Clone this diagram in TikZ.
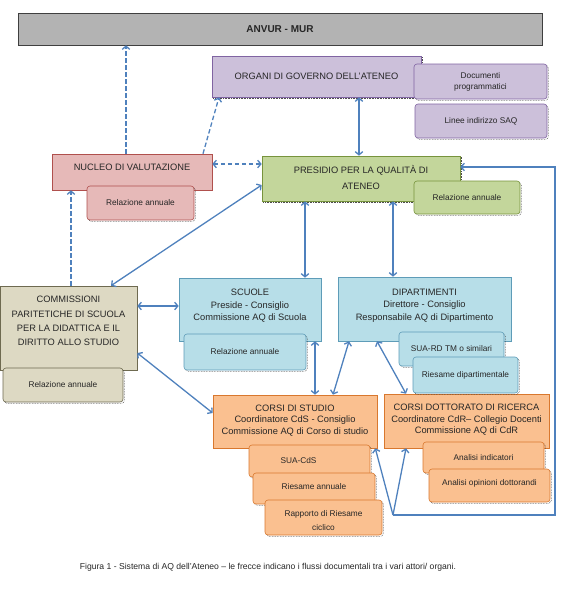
\documentclass[tikz,border=0pt]{standalone}
\usepackage{fontspec}
\setmainfont{Liberation Sans}
\usetikzlibrary{arrows.meta,shadows,calc}
\definecolor{arrc}{HTML}{4F81BD}
\definecolor{anvF}{HTML}{B3B3B3}\definecolor{anvD}{HTML}{3F3F3F}
\definecolor{orgF}{HTML}{CCC0DA}\definecolor{orgD}{HTML}{8064A2}
\definecolor{nucF}{HTML}{E6B9B8}\definecolor{nucD}{HTML}{B0504D}
\definecolor{preF}{HTML}{C3D69B}\definecolor{preD}{HTML}{77933C}
\definecolor{bluF}{HTML}{B7DEE8}\definecolor{bluD}{HTML}{5E9CB8}
\definecolor{comF}{HTML}{DDD9C3}\definecolor{comD}{HTML}{6E6A50}
\definecolor{corF}{HTML}{FAC090}\definecolor{corD}{HTML}{D9782E}
\newcommand\mainf{\fontsize{9.3}{12}\selectfont}
\newcommand\docf{\fontsize{8.3}{11}\selectfont}
\newcommand\lift[2]{\raisebox{#1}[\height][\depth]{\begin{tabular}{@{}c@{}}#2\end{tabular}}}
\newcommand\bx[7]{\node[#2, inner sep=0pt, minimum width={(#5-#3)*1pt}, minimum height={(#6-#4)*1pt}] (#1) at ({(#3+#5)/2},{(#4+#6)/2}) {#7};}
\tikzset{
  mb/.style 2 args={draw=#1, fill=#2, line width=0.6pt, align=center, font=\mainf, text=black!85},
  db/.style 2 args={draw=#1, fill=#2, line width=0.6pt, rounded corners=3pt, align=center, font=\docf, text=black!85,
     drop shadow={shadow xshift=1.3pt, shadow yshift=-1.3pt, fill=none, draw=black!75, densely dotted, opacity=1}},
  dshad/.style={drop shadow={shadow xshift=1.3pt, shadow yshift=-1.3pt, fill=none, draw=black!70, densely dotted, opacity=1}},
  sarr/.style={draw=arrc, line width=1.3pt, -{Straight Barb[length=3.2pt,width=7.5pt]}},
  sarrb/.style={draw=arrc, line width=1.3pt, {Straight Barb[length=3.2pt,width=7.5pt]}-{Straight Barb[length=3.2pt,width=7.5pt]}},
  darr/.style={draw=arrc, line width=1.3pt, dash pattern=on 4.5pt off 2.5pt, -{Straight Barb[length=3.2pt,width=7.5pt]}},
  darrb/.style={draw=arrc, line width=1.3pt, dash pattern=on 4.5pt off 2.5pt, {Straight Barb[length=3.2pt,width=7.5pt]}-{Straight Barb[length=3.2pt,width=7.5pt]}},
}
\begin{document}
\begin{tikzpicture}[x=1pt,y=-1pt]
\useasboundingbox (0,0) rectangle (560,600);
% main boxes
\bx{anvur}{mb={anvD}{anvF}, font=\fontsize{10}{12}\selectfont\bfseries}{18}{13}{542}{45}{ANVUR - MUR}
\bx{organi}{mb={orgD}{orgF}, dshad}{212}{56}{421}{97}{ORGANI DI GOVERNO DELL'ATENEO}
\bx{nucleo}{mb={nucD}{nucF}}{52}{154}{212}{190}{\lift{3.5pt}{NUCLEO DI VALUTAZIONE}}
\bx{presidio}{mb={preD}{preF}, dshad}{262}{156}{460}{201}{\fontsize{9.3}{16}\selectfont\lift{0pt}{PRESIDIO PER LA QUALITÀ DI\\ATENEO}}
\bx{comm}{mb={comD}{comF}}{0}{286}{137}{370}{\fontsize{9.3}{14.4}\selectfont\lift{6.5pt}{COMMISSIONI\\PARITETICHE DI SCUOLA\\PER LA DIDATTICA E IL\\DIRITTO ALLO STUDIO}}
\bx{scuole}{mb={bluD}{bluF}}{179}{278}{321}{341}{\fontsize{9.3}{12.5}\selectfont\lift{4pt}{SCUOLE\\Preside - Consiglio\\Commissione AQ di Scuola}}
\bx{dip}{mb={bluD}{bluF}}{338}{277}{511}{341}{\fontsize{9.3}{12.5}\selectfont\lift{4pt}{DIPARTIMENTI\\Direttore - Consiglio\\Responsabile AQ di Dipartimento}}
\bx{corsis}{mb={corD}{corF}}{213}{395}{377}{448}{\fontsize{9.3}{11.6}\selectfont\lift{1pt}{CORSI DI STUDIO\\Coordinatore CdS - Consiglio\\Commissione AQ di Corso di studio}}
\bx{corsid}{mb={corD}{corF}}{384}{394}{549}{448}{\fontsize{9.3}{11.6}\selectfont\lift{1pt}{CORSI DOTTORATO DI RICERCA\\Coordinatore CdR– Collegio Docenti\\Commissione AQ di CdR}}
% document boxes
\bx{docprog}{db={orgD}{orgF}}{414}{64}{547}{99}{\lift{0pt}{Documenti\\programmatici}}
\bx{linee}{db={orgD}{orgF}}{415}{104}{547}{138}{Linee indirizzo SAQ}
\bx{relnuc}{db={nucD}{nucF}}{87}{186}{194}{220}{Relazione annuale}
\bx{relpres}{db={preD}{preF}}{414}{181}{520}{214}{Relazione annuale}
\bx{relcomm}{db={comD}{comF}}{3}{368}{123}{402}{Relazione annuale}
\bx{relscuole}{db={bluD}{bluF}}{184}{334}{306}{370}{Relazione annuale}
\bx{suard}{db={bluD}{bluF}}{399}{332}{504}{366}{SUA-RD TM o similari}
\bx{riesdip}{db={bluD}{bluF}}{413}{357}{518}{393}{Riesame dipartimentale}
\bx{suacds}{db={corD}{corF}}{249}{445}{370}{477}{\hspace*{-22pt}SUA-CdS}
\bx{riesann}{db={corD}{corF}}{253}{473}{375}{504}{\lift{1.5pt}{Riesame annuale}}
\bx{rapporto}{db={corD}{corF}}{265}{500}{382}{535}{\fontsize{8.3}{14}\selectfont\lift{-3pt}{Rapporto di Riesame\\ciclico}}
\bx{analisi}{db={corD}{corF}}{423}{442}{544}{473}{Analisi indicatori}
\bx{analisiop}{db={corD}{corF}}{429}{469}{550}{502}{\lift{2pt}{Analisi opinioni dottorandi}}
% caption
\node[font=\fontsize{8.6}{10}\selectfont, text=black!85] (caption) at (268,567) {Figura 1 - Sistema di AQ dell’Ateneo – le frecce indicano i flussi documentali tra i vari attori/ organi.};
% helper coordinates
\coordinate (c71) at (71,0);   \coordinate (c111) at (111,0);
\coordinate (c126) at (126,0); \coordinate (c203) at (203,0);
\coordinate (c219) at (219,0); \coordinate (c305) at (305,0);
\coordinate (c315) at (315,0); \coordinate (c333) at (333,0);
\coordinate (c349) at (349,0); \coordinate (c359) at (359,0);
\coordinate (c377) at (377,0); \coordinate (c393) at (393,0);
\coordinate (c406) at (406,0);
\coordinate (r164) at (0,164); \coordinate (r167) at (0,167);
\coordinate (r185) at (0,185); \coordinate (r306) at (0,306);
\coordinate (r353) at (0,353); \coordinate (r413) at (0,413);
\coordinate (fb) at (393,515); \coordinate (fbr) at (555,515);
% connectors
\draw[darr] (nucleo.north -| c126) -- (anvur.south -| c126);
\draw[darr] (nucleo.north -| c203) -- (organi.south -| c219);
\draw[darrb] (nucleo.east |- r164) -- (presidio.west |- r164);
\draw[darr] (comm.north -| c71) -- (nucleo.south -| c71);
\draw[sarrb] (organi.south -| c359) -- (presidio.north -| c359);
\draw[sarrb] (presidio.south -| c305) -- (scuole.north -| c305);
\draw[sarrb] (presidio.south -| c393) -- (dip.north -| c393);
\draw[sarrb] (presidio.west |- r185) -- (comm.north -| c111);
\draw[sarrb] (comm.east |- r306) -- (scuole.west |- r306);
\draw[sarrb] (comm.east |- r353) -- (corsis.west |- r413);
\draw[sarrb] (scuole.south -| c315) -- (corsis.north -| c315);
\draw[sarrb] (dip.south -| c349) -- (corsis.north -| c333);
\draw[sarrb] (dip.south -| c377) -- (corsid.north -| c406);
\draw[sarr] (fb) -- (fbr) -- (fbr |- r167) -- (presidio.east |- r167);
\draw[sarr] (fb) -- ([xshift=-2pt]corsis.south east);
\draw[sarr] (fb) -- (corsid.south -| c406);
\end{tikzpicture}
\end{document}
